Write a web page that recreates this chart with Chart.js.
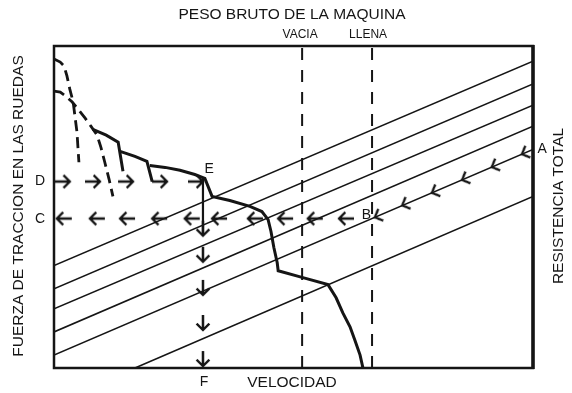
<!DOCTYPE html>
<html lang="es">
<head>
<meta charset="UTF-8">
<title>Fuerza de traccion y resistencia total</title>
<script src="https://cdn.jsdelivr.net/npm/chart.js"></script>
<style>
  body { margin: 0; background: #fff; }
  .grafico { width: 572px; height: 393px; }
</style>
</head>
<body>
<div class="grafico"><canvas id="canvas_grafico"></canvas></div>
<script>
// escala de 0 a 100 en los dos ejes (velocidad / fuerza)

// rectas de resistencia total: punto inicial y final
const rectasInicio = [[0, 31.8], [0, 24.6], [0, 18.4], [0, 11.2], [0, 4.0], [16.9, 0]];
const rectasFin = [[100, 95.3], [100, 88.2], [100, 81.6], [100, 75.1], [100, 67.9], [100, 53.3]];

// peso bruto de la maquina
const pesoVacia = 51.8;
const pesoLlena = 66.4;

// curvas a trazos (marchas bajas)
const curva1X = [0, 1.3, 2.1, 2.7, 3.3, 4.0, 4.4, 4.8, 5.0, 5.2];
const curva1Y = [96.0, 95.0, 93.8, 90.7, 86.6, 82.6, 77.9, 73.2, 68.5, 63.9];
const curva2X = [0, 1.3, 2.5, 3.8, 5.0, 6.5, 7.7, 9.0, 9.8, 10.6, 11.5, 12.3];
const curva2Y = [86.0, 85.7, 84.4, 82.6, 80.4, 77.6, 75.1, 72.3, 68.5, 63.9, 58.6, 53.3];

// curva de fuerza de traccion en las ruedas (tres tramos)
const traccion1X = [8.1, 10.9, 13.4, 14.4];
const traccion1Y = [74.1, 72.3, 70.1, 61.1];
const traccion2X = [13.8, 16.9, 19.4, 20.5];
const traccion2Y = [67.3, 65.7, 64.2, 57.9];
const traccion3X = [20.0, 23.2, 26.3, 29.4, 31.5, 33.0, 36.7, 40.9, 43.4, 44.7, 45.3, 45.9, 46.6, 46.8,
                    51.4, 57.2, 58.9, 60.3, 61.8, 62.8, 63.9, 64.5];
const traccion3Y = [62.9, 62.3, 61.4, 60.1, 58.9, 53.3, 52.0, 50.2, 48.6, 46.1, 42.4, 37.4, 32.7, 30.2,
                    28.3, 25.9, 21.8, 17.1, 12.8, 8.7, 4.0, 0];

// flechas (punta de cada flecha)
const nivelD = 57.9;
const flechasD = [3.3, 9.6, 16.5, 23.6, 31.1];
const nivelC = 46.4;
const flechasC = [0.6, 7.5, 13.8, 20.5, 27.3, 33.0, 40.5, 46.8, 53.0, 59.5];
const columnaF = 31.1;
const flechasF = [41.1, 33.0, 22.7, 11.8, 0.6];
const flechasAX = [97.7, 91.4, 85.2, 78.9, 72.7, 67.0];
const flechasAY = [66.4, 62.4, 58.4, 54.4, 50.5, 46.8];

const NEGRO = '#151515';
const FUENTE = '"Liberation Sans", Arial, Helvetica, sans-serif';

function puntos(xs, ys) {
    return xs.map((x, i) => ({ x: x, y: ys[i] }));
}

function crearFlecha(cuerpo, punta) {
    const m = cuerpo + punta + 3;
    const c = document.createElement('canvas');
    c.width = 2 * m;
    c.height = 2 * m;
    const g = c.getContext('2d');
    g.strokeStyle = NEGRO;
    g.lineWidth = 2.3;
    const a = 45 * Math.PI / 180;
    g.beginPath();
    if (cuerpo > 0) {
        g.moveTo(m - cuerpo, m);
        g.lineTo(m, m);
    }
    g.moveTo(m - punta * Math.cos(a), m - punta * Math.sin(a));
    g.lineTo(m, m);
    g.lineTo(m - punta * Math.cos(a), m + punta * Math.sin(a));
    g.stroke();
    return c;
}

const flecha = crearFlecha(15, 9);
const flechaF = crearFlecha(15, 9);
const chevron = crearFlecha(0, 9);

function linea(data, ancho, extra) {
    return Object.assign({
        data: data,
        borderColor: NEGRO,
        borderWidth: ancho,
        pointRadius: 0,
        fill: false,
        tension: 0
    }, extra || {});
}

function flechas(data, estilo, giro) {
    return {
        data: data,
        showLine: false,
        pointStyle: estilo,
        pointRadius: 6,
        pointRotation: giro
    };
}

var datasets = [];
for (let i = 0; i < rectasInicio.length; i++) {
    datasets.push(linea([
        { x: rectasInicio[i][0], y: rectasInicio[i][1] },
        { x: rectasFin[i][0], y: rectasFin[i][1] }
    ], 1.6));
}
datasets.push(linea([{ x: pesoVacia, y: 0 }, { x: pesoVacia, y: 100 }], 2, { borderDash: [12, 10] }));
datasets.push(linea([{ x: pesoLlena, y: 0 }, { x: pesoLlena, y: 100 }], 2, { borderDash: [12, 10] }));
datasets.push(linea(puntos(curva1X, curva1Y), 2.8, { borderDash: [11, 6] }));
datasets.push(linea(puntos(curva2X, curva2Y), 2.8, { borderDash: [11, 6] }));
datasets.push(linea(puntos(traccion1X, traccion1Y), 3));
datasets.push(linea(puntos(traccion2X, traccion2Y), 3));
datasets.push(linea(puntos(traccion3X, traccion3Y), 3));
// bajada desde E
datasets.push(linea([{ x: columnaF, y: traccion3Y[4] }, { x: columnaF, y: flechasF[0] }], 2.2));

datasets.push(flechas(flechasD.map(x => ({ x: x, y: nivelD })), flecha, 0));
datasets.push(flechas(flechasC.map(x => ({ x: x, y: nivelC })), flecha, 180));
datasets.push(flechas(flechasF.map(y => ({ x: columnaF, y: y })), flechaF, 90));
datasets.push(flechas(puntos(flechasAX, flechasAY), chevron, 156.8));

const textos = {
    id: 'textos',
    afterDraw(chart) {
        const ctx = chart.ctx;
        const a = chart.chartArea;
        const sx = chart.scales.x;
        const sy = chart.scales.y;
        ctx.save();
        ctx.strokeStyle = NEGRO;
        ctx.lineWidth = 2.5;
        ctx.strokeRect(a.left, a.top, a.right - a.left, a.bottom - a.top);
        ctx.lineWidth = 3.5;
        ctx.beginPath();
        ctx.moveTo(a.right, a.top - 1);
        ctx.lineTo(a.right, a.bottom + 1);
        ctx.stroke();

        ctx.fillStyle = NEGRO;
        ctx.textAlign = 'center';
        ctx.textBaseline = 'middle';
        ctx.font = '15.5px ' + FUENTE;
        ctx.fillText('PESO BRUTO DE LA MAQUINA', 292, 15);
        ctx.fillText('VELOCIDAD', 292, 383);

        ctx.save();
        ctx.translate(19, 206);
        ctx.rotate(-Math.PI / 2);
        ctx.fillText('FUERZA DE TRACCION EN LAS RUEDAS', 0, 0);
        ctx.restore();
        ctx.save();
        ctx.translate(559, 206);
        ctx.rotate(-Math.PI / 2);
        ctx.fillText('RESISTENCIA TOTAL', 0, 0);
        ctx.restore();

        ctx.font = '12px ' + FUENTE;
        ctx.fillText('VACIA', sx.getPixelForValue(pesoVacia) - 2, 35);
        ctx.fillText('LLENA', sx.getPixelForValue(pesoLlena) - 4, 35);

        ctx.font = '14px ' + FUENTE;
        const letras = [['A', 101.9, 68.1], ['B', 65.2, 47.4], ['C', -2.9, 46.1],
                        ['D', -2.9, 57.9], ['E', 32.4, 61.7], ['F', 31.3, -4.4]];
        letras.forEach(l => {
            ctx.fillText(l[0], sx.getPixelForValue(l[1]), sy.getPixelForValue(l[2]));
        });
        ctx.restore();
    }
};

new Chart(document.getElementById('canvas_grafico'), {
    type: 'line',
    data: { datasets: datasets },
    options: {
        responsive: true,
        maintainAspectRatio: false,
        animation: false,
        events: [],
        layout: { padding: { left: 54, right: 39, top: 46, bottom: 25 } },
        plugins: { legend: { display: false }, tooltip: { enabled: false } },
        scales: {
            x: { type: 'linear', min: 0, max: 100, display: false },
            y: { type: 'linear', min: 0, max: 100, display: false }
        }
    },
    plugins: [textos]
});
</script>
</body>
</html>
